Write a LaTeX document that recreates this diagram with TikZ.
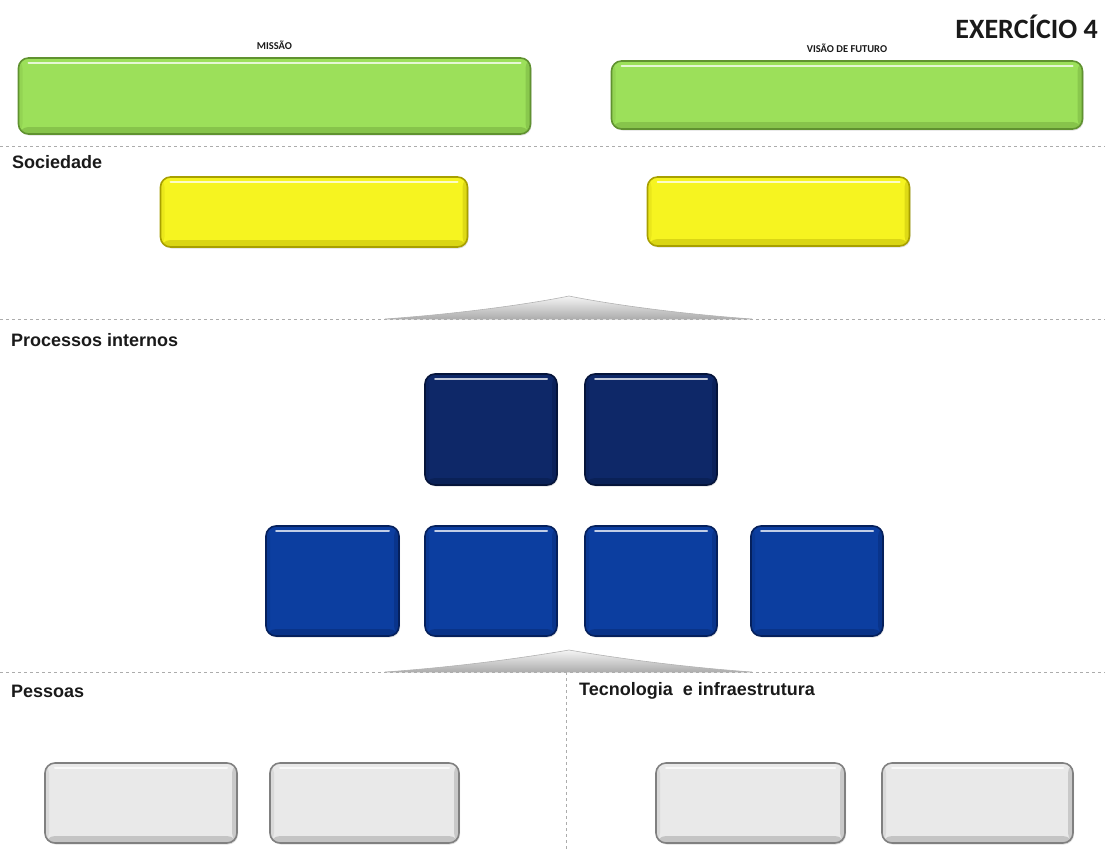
\documentclass[tikz,border=0pt]{standalone}
\usepackage{fontspec}
\setmainfont{Liberation Sans}
\newfontfamily\calibri{Carlito}
\usepackage{tikz}
\usetikzlibrary{positioning,shadows}

\definecolor{leafgreen}{RGB}{156,224,90}
\definecolor{leafedge}{RGB}{96,146,48}
\definecolor{lemon}{RGB}{246,244,32}
\definecolor{lemonedge}{RGB}{168,160,0}
\definecolor{navy}{RGB}{14,40,104}
\definecolor{navyedge}{RGB}{5,20,58}
\definecolor{royal}{RGB}{12,62,160}
\definecolor{royaledge}{RGB}{5,32,92}
\definecolor{pale}{RGB}{233,233,233}
\definecolor{paleedge}{RGB}{128,128,128}
\definecolor{ink}{RGB}{26,26,26}

\tikzset{
  tile/.style n args={2}{rounded corners=10pt, fill=#1, draw=#2, line width=1.6pt,
    inner sep=0pt,
    drop shadow={opacity=.25, shadow xshift=1pt, shadow yshift=-1.5pt},
    path picture={
      \fill[#2, opacity=.35] ([yshift=7pt]path picture bounding box.south west)
        rectangle (path picture bounding box.south east);
      \fill[#2, opacity=.3] ([xshift=-5pt]path picture bounding box.north east)
        rectangle (path picture bounding box.south east);
      \fill[#2, opacity=.15] (path picture bounding box.north west)
        rectangle ([xshift=4pt]path picture bounding box.south west);
      \draw[white, opacity=.75, line width=2pt, line cap=round]
        ([xshift=10pt,yshift=-5pt]path picture bounding box.north west)
        -- ([xshift=-10pt,yshift=-5pt]path picture bounding box.north east);
    }},
  head/.style={anchor=west, inner sep=0pt, text=ink, font=\bfseries\fontsize{18}{21}\selectfont},
  tilelabel/.style={inner sep=0pt, text=ink, font=\calibri\bfseries\fontsize{10.5}{12}\selectfont},
  sepline/.style={gray!65, dashed, line width=1pt},
  ridge/.style={draw=gray!60, line width=.6pt, top color=gray!8, bottom color=gray!65}
}

\begin{document}
\begin{tikzpicture}[x=1pt, y=-1pt]
    \useasboundingbox (0,0) rectangle (1105,851);
    % title
    \node[anchor=east, inner sep=0pt, text=ink,
          font=\calibri\bfseries\fontsize{28}{32}\selectfont] (title) at (1098,27) {EXERCÍCIO 4};
    % mission and vision
    \node[tile={leafgreen}{leafedge}, minimum width=512, minimum height=76] (missao) at (274.5,96) {};
    \node[tile={leafgreen}{leafedge}, minimum width=471, minimum height=68] (visao) at (847,95) {};
    \node[tilelabel, above=7pt of missao] (missaolbl) {MISSÃO};
    \node[tilelabel, above=7pt of visao] (visaolbl) {VISÃO DE FUTURO};
    \draw[sepline] (0,146) -- (1105,146);
    % society
    \node[head] (soc) at (12,162) {Sociedade};
    \node[tile={lemon}{lemonedge}, minimum width=307, minimum height=70] (soc1) at (314,212) {};
    \node[tile={lemon}{lemonedge}, minimum width=262, minimum height=69] (soc2) at (778.5,211.5) {};
    \shade[ridge] (385,319) .. controls (470,313) and (540,302) .. (569,296)
          .. controls (598,302) and (668,313) .. (752,319) -- cycle;
    \draw[sepline] (0,319) -- (1105,319);
    % internal processes
    \node[head] (proc) at (11,340) {Processos internos};
    \node[tile={navy}{navyedge}, minimum width=132, minimum height=111] (top1) at (491,429.5) {};
    \node[tile={navy}{navyedge}, minimum width=132, minimum height=111] (top2) at (651,429.5) {};
    \node[tile={royal}{royaledge}, minimum width=133, minimum height=110] (low1) at (332.5,581) {};
    \node[tile={royal}{royaledge}, minimum width=132, minimum height=110] (low2) at (491,581) {};
    \node[tile={royal}{royaledge}, minimum width=132, minimum height=110] (low3) at (651,581) {};
    \node[tile={royal}{royaledge}, minimum width=132, minimum height=110] (low4) at (817,581) {};
    \shade[ridge] (385,672) .. controls (470,666) and (540,655) .. (569,650)
          .. controls (598,655) and (668,666) .. (752,672) -- cycle;
    \draw[sepline] (0,672) -- (1105,672);
    \draw[sepline] (566,672) -- (566,851);
    % people, technology
    \node[head] (pes) at (11,691) {Pessoas};
    \node[head] (tec) at (579,691) {Tecnologia\ \ e infraestrutura};
    \node[tile={pale}{paleedge}, minimum width=192, minimum height=80] (pes1) at (141,803) {};
    \node[tile={pale}{paleedge}, minimum width=189, minimum height=80] (pes2) at (364.5,803) {};
    \node[tile={pale}{paleedge}, minimum width=189, minimum height=80] (tec1) at (750.5,803) {};
    \node[tile={pale}{paleedge}, minimum width=191, minimum height=80] (tec2) at (977.5,803) {};
\end{tikzpicture}
\end{document}
